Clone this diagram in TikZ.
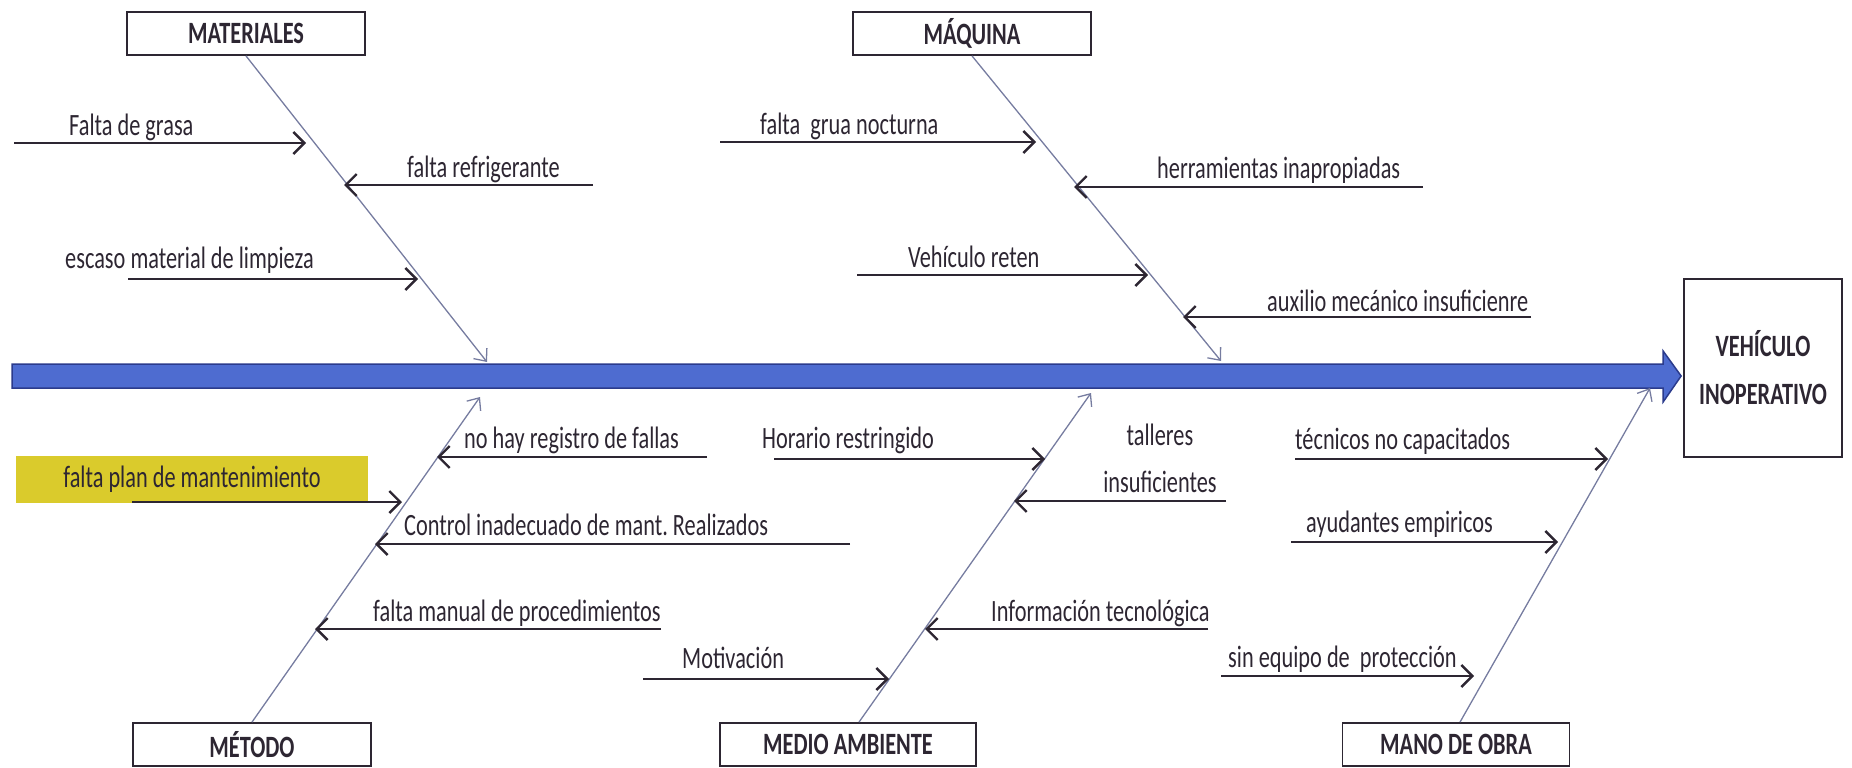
\documentclass[tikz,border=0pt]{standalone}
\usepackage{fontspec}
\setmainfont{Carlito}[FakeStretch=0.72]
\usepackage{xcolor}
\usetikzlibrary{arrows.meta,calc,positioning}
\definecolor{tinta}{RGB}{45,38,50}
\definecolor{espinacol}{RGB}{118,124,160}
\definecolor{azulfondo}{RGB}{78,108,208}
\definecolor{azulborde}{RGB}{43,59,140}
\definecolor{amarillo}{RGB}{218,203,44}

\begin{document}
\begin{tikzpicture}[
    x=1pt, y=-1pt,
    every node/.style={text=tinta, font=\fontsize{31}{36}\selectfont},
    categoria/.style={draw=tinta, line width=1.8pt, fill=white, inner sep=0, minimum width=238pt, minimum height=43pt, font=\fontsize{31}{36}\selectfont\bfseries},
    causa/.style={anchor=base west, inner sep=0},
    espina/.style={draw=espinacol, line width=1.3pt, -{Straight Barb[length=10pt,width=17pt]}},
    flecha/.style={draw=tinta, line width=2.4pt, -{Straight Barb[length=11pt,width=22pt]}},
    spine/.style={fill=azulfondo, draw=azulborde, line width=1.5pt, line join=miter}]
\useasboundingbox (0,0) rectangle (1852,768);

\node[categoria, minimum width=158pt, minimum height=178pt, align=center, font=\fontsize{31}{48}\selectfont\bfseries] (EFECTO) at (1763,368) {VEHÍCULO\\INOPERATIVO};
\coordinate (COLA) at (12,376);
\coordinate (PUNTA) at ($(COLA -| EFECTO.west)+(-2,0)$);
\path[spine] ($(COLA)+(0,-12)$) -- ($(PUNTA)+(-18,-12)$) -- ($(PUNTA)+(-18,-25)$) -- (PUNTA) -- ($(PUNTA)+(-18,26)$) -- ($(PUNTA)+(-18,12)$) -- ($(COLA)+(0,12)$) -- cycle;

\node[categoria] (MAT) at (246,33.5) {MATERIALES};
\coordinate (MATp) at (487,362);
\path[espina] (MAT.south) -- (MATp);
\node[causa] (MAT1) at (69,135) {Falta de grasa};
\coordinate (MAT1a) at (14,143); \coordinate (MAT1b) at (306,143);
\path[flecha] (MAT1a) -- (MAT1b);
\node[causa] (MAT2) at (407,177) {falta refrigerante};
\coordinate (MAT2a) at (593,185); \coordinate (MAT2b) at (344,185);
\path[flecha] (MAT2a) -- (MAT2b);
\node[causa] (MAT3) at (65,268) {escaso material de limpieza};
\coordinate (MAT3a) at (128,279); \coordinate (MAT3b) at (418,279);
\path[flecha] (MAT3a) -- (MAT3b);

\node[categoria] (MAQ) at (972,33.5) {MÁQUINA};
\coordinate (MAQp) at (1221,361);
\path[espina] (MAQ.south) -- (MAQp);
\node[causa] (MAQ1) at (760,134) {falta\ \ grua nocturna};
\coordinate (MAQ1a) at (720,142); \coordinate (MAQ1b) at (1036,142);
\path[flecha] (MAQ1a) -- (MAQ1b);
\node[causa] (MAQ2) at (1157,178) {herramientas inapropiadas};
\coordinate (MAQ2a) at (1423,187); \coordinate (MAQ2b) at (1074,187);
\path[flecha] (MAQ2a) -- (MAQ2b);
\node[causa] (MAQ3) at (908,267) {Vehículo reten};
\coordinate (MAQ3a) at (857,275); \coordinate (MAQ3b) at (1148,275);
\path[flecha] (MAQ3a) -- (MAQ3b);
\node[causa] (MAQ4) at (1267,311) {auxilio mecánico insuficienre};
\coordinate (MAQ4a) at (1531,317); \coordinate (MAQ4b) at (1183,317);
\path[flecha] (MAQ4a) -- (MAQ4b);

\node[categoria] (MET) at (252,744.5) {MÉTODO};
\coordinate (METp) at (480,397);
\path[espina] (MET.north) -- (METp);
\node[causa] (MET1) at (464,448) {no hay registro de fallas};
\coordinate (MET1a) at (707,457); \coordinate (MET1b) at (437,457);
\path[flecha] (MET1a) -- (MET1b);
\node[fill=amarillo, inner sep=0, minimum width=352pt, minimum height=47pt] (MET2) at (192,479.5) {falta plan de mantenimiento};
\coordinate (MET2a) at (132,502); \coordinate (MET2b) at (402,502);
\path[flecha] (MET2a) -- (MET2b);
\node[causa] (MET3) at (404,535) {Control inadecuado de mant.\ Realizados};
\coordinate (MET3a) at (850,544); \coordinate (MET3b) at (375,544);
\path[flecha] (MET3a) -- (MET3b);
\node[causa] (MET4) at (373,621) {falta manual de procedimientos};
\coordinate (MET4a) at (661,629); \coordinate (MET4b) at (315,629);
\path[flecha] (MET4a) -- (MET4b);

\node[categoria, minimum width=256pt] (MED) at (848,744.5) {MEDIO AMBIENTE};
\coordinate (MEDp) at (1091,393);
\path[espina] ([xshift=11pt]MED.north) -- (MEDp);
\node[causa] (MED1) at (762,448) {Horario restringido};
\coordinate (MED1a) at (774,459); \coordinate (MED1b) at (1045,459);
\path[flecha] (MED1a) -- (MED1b);
\node[anchor=base, inner sep=0, align=center, font=\fontsize{31}{47}\selectfont] (MED2) at (1160,492) {talleres\\insuficientes};
\coordinate (MED2a) at (1226,501); \coordinate (MED2b) at (1014,501);
\path[flecha] (MED2a) -- (MED2b);
\node[causa] (MED3) at (991,621) {Información tecnológica};
\coordinate (MED3a) at (1208,629); \coordinate (MED3b) at (925,629);
\path[flecha] (MED3a) -- (MED3b);
\node[causa] (MED4) at (682,668) {Motivación};
\coordinate (MED4a) at (643,679); \coordinate (MED4b) at (889,679);
\path[flecha] (MED4a) -- (MED4b);

\node[categoria, minimum width=227pt] (MAN) at (1456,744.5) {MANO DE OBRA};
\coordinate (MANp) at (1650,388);
\path[espina] ([xshift=4pt]MAN.north) -- (MANp);
\node[causa] (MAN1) at (1295,449) {técnicos no capacitados};
\coordinate (MAN1a) at (1295,459); \coordinate (MAN1b) at (1608,459);
\path[flecha] (MAN1a) -- (MAN1b);
\node[causa] (MAN2) at (1306,532) {ayudantes empiricos};
\coordinate (MAN2a) at (1291,542); \coordinate (MAN2b) at (1558,542);
\path[flecha] (MAN2a) -- (MAN2b);
\node[causa] (MAN3) at (1228,667) {sin equipo de\ \ protección};
\coordinate (MAN3a) at (1221,676); \coordinate (MAN3b) at (1474,676);
\path[flecha] (MAN3a) -- (MAN3b);

\end{tikzpicture}
\end{document}
